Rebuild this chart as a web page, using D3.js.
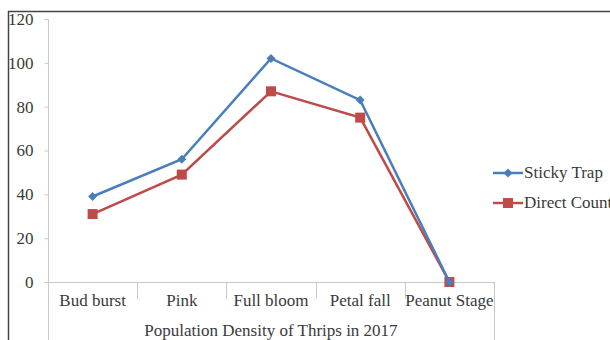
<!DOCTYPE html>
<html><head><meta charset="utf-8">
<script src="https://cdn.jsdelivr.net/npm/d3@7"></script>
<style>html,body{margin:0;padding:0;background:#fff;overflow:hidden} text{font-family:"Liberation Serif","Times New Roman",serif;}</style>
</head><body>
<svg id="c" width="610" height="340"></svg>
<script>
const categories = ["Bud burst","Pink","Full bloom","Petal fall","Peanut Stage"];
const stickyTrap = [39,56,102,83,0];
const directCount = [31,49,87,75,0];
const yTicks = [0,20,40,60,80,100,120];
const groupLabel = "Population Density of Thrips in 2017";
const seriesNames = ["Sticky Trap","Direct Count"];

const svg = d3.select("#c");
const font = "Liberation Serif";
const fs = 17;
const x = d3.scaleBand().domain(categories).range([48,494]);
const y = d3.scaleLinear().domain([0,120]).range([282,19]);

// frame
svg.append("line").attr("x1",8).attr("x2",610).attr("y1",11.5).attr("y2",11.5).attr("stroke","#444").attr("stroke-width",1.5);
svg.append("line").attr("x1",8.5).attr("x2",8.5).attr("y1",11).attr("y2",340).attr("stroke","#444").attr("stroke-width",1.5);

// y axis
const ya = svg.append("g").attr("transform","translate(48.5,0)")
  .call(d3.axisLeft(y).tickValues(yTicks).tickSize(4).tickPadding(11));
ya.select(".domain").attr("stroke","#c8c8c8").attr("d","M-4,19.5H0V282.5");
ya.selectAll(".tick line").attr("stroke","#c8c8c8");
ya.selectAll("text").attr("font-family",font).attr("font-size",fs).attr("fill","#3a3a3a");

// x axis
svg.append("line").attr("x1",44).attr("x2",494).attr("y1",282.5).attr("y2",282.5).attr("stroke","#c8c8c8");
const bounds = categories.map(c=>x(c)).concat([x.range()[1]]);
bounds.forEach((b,i)=>{
  const outer = i===0 || i===bounds.length-1;
  svg.append("line").attr("x1",Math.round(b)+0.5).attr("x2",Math.round(b)+0.5)
    .attr("y1",282).attr("y2",outer?340:299).attr("stroke","#c8c8c8");
});
svg.append("g").selectAll("text").data(categories).join("text")
  .attr("x",d=>x(d)+x.bandwidth()/2).attr("y",306)
  .attr("text-anchor","middle").attr("font-family",font).attr("font-size",fs).attr("fill","#3a3a3a")
  .text(d=>d);
svg.append("text").attr("x",(48+494)/2).attr("y",336).attr("text-anchor","middle")
  .attr("font-family",font).attr("font-size",fs).attr("fill","#3a3a3a").text(groupLabel);

const cx = d=>x(d)+x.bandwidth()/2;
const line = d3.line().x(d=>cx(d.c)).y(d=>y(d.v));
const blue="#4a7ebb", red="#be4b48";
const sData = categories.map((c,i)=>({c,v:stickyTrap[i]}));
const dData = categories.map((c,i)=>({c,v:directCount[i]}));

svg.append("path").datum(dData).attr("d",line).attr("fill","none").attr("stroke",red).attr("stroke-width",2.5);
svg.append("g").selectAll("rect").data(dData).join("rect")
  .attr("x",d=>cx(d.c)-5).attr("y",d=>y(d.v)-5).attr("width",10).attr("height",10).attr("fill",red);
svg.append("path").datum(sData).attr("d",line).attr("fill","none").attr("stroke",blue).attr("stroke-width",2.5);
const diamond = d3.symbol().type(d3.symbolSquare).size(40);
svg.append("g").selectAll("path").data(sData).join("path")
  .attr("d",diamond).attr("transform",d=>`translate(${cx(d.c)},${y(d.v)}) rotate(45)`).attr("fill",blue);

// legend
const lg = [{n:seriesNames[0],c:blue,t:"d",y:173},{n:seriesNames[1],c:red,t:"s",y:203}];
lg.forEach(l=>{
  svg.append("line").attr("x1",493).attr("x2",523).attr("y1",l.y).attr("y2",l.y).attr("stroke",l.c).attr("stroke-width",2.5);
  if(l.t==="d") svg.append("path").attr("d",diamond).attr("transform",`translate(508,${l.y}) rotate(45)`).attr("fill",l.c);
  else svg.append("rect").attr("x",503).attr("y",l.y-5).attr("width",10).attr("height",10).attr("fill",l.c);
  svg.append("text").attr("x",524).attr("y",l.y+5).attr("font-family",font).attr("font-size",fs).attr("fill","#3a3a3a").text(l.n);
});
</script>
</body></html>
